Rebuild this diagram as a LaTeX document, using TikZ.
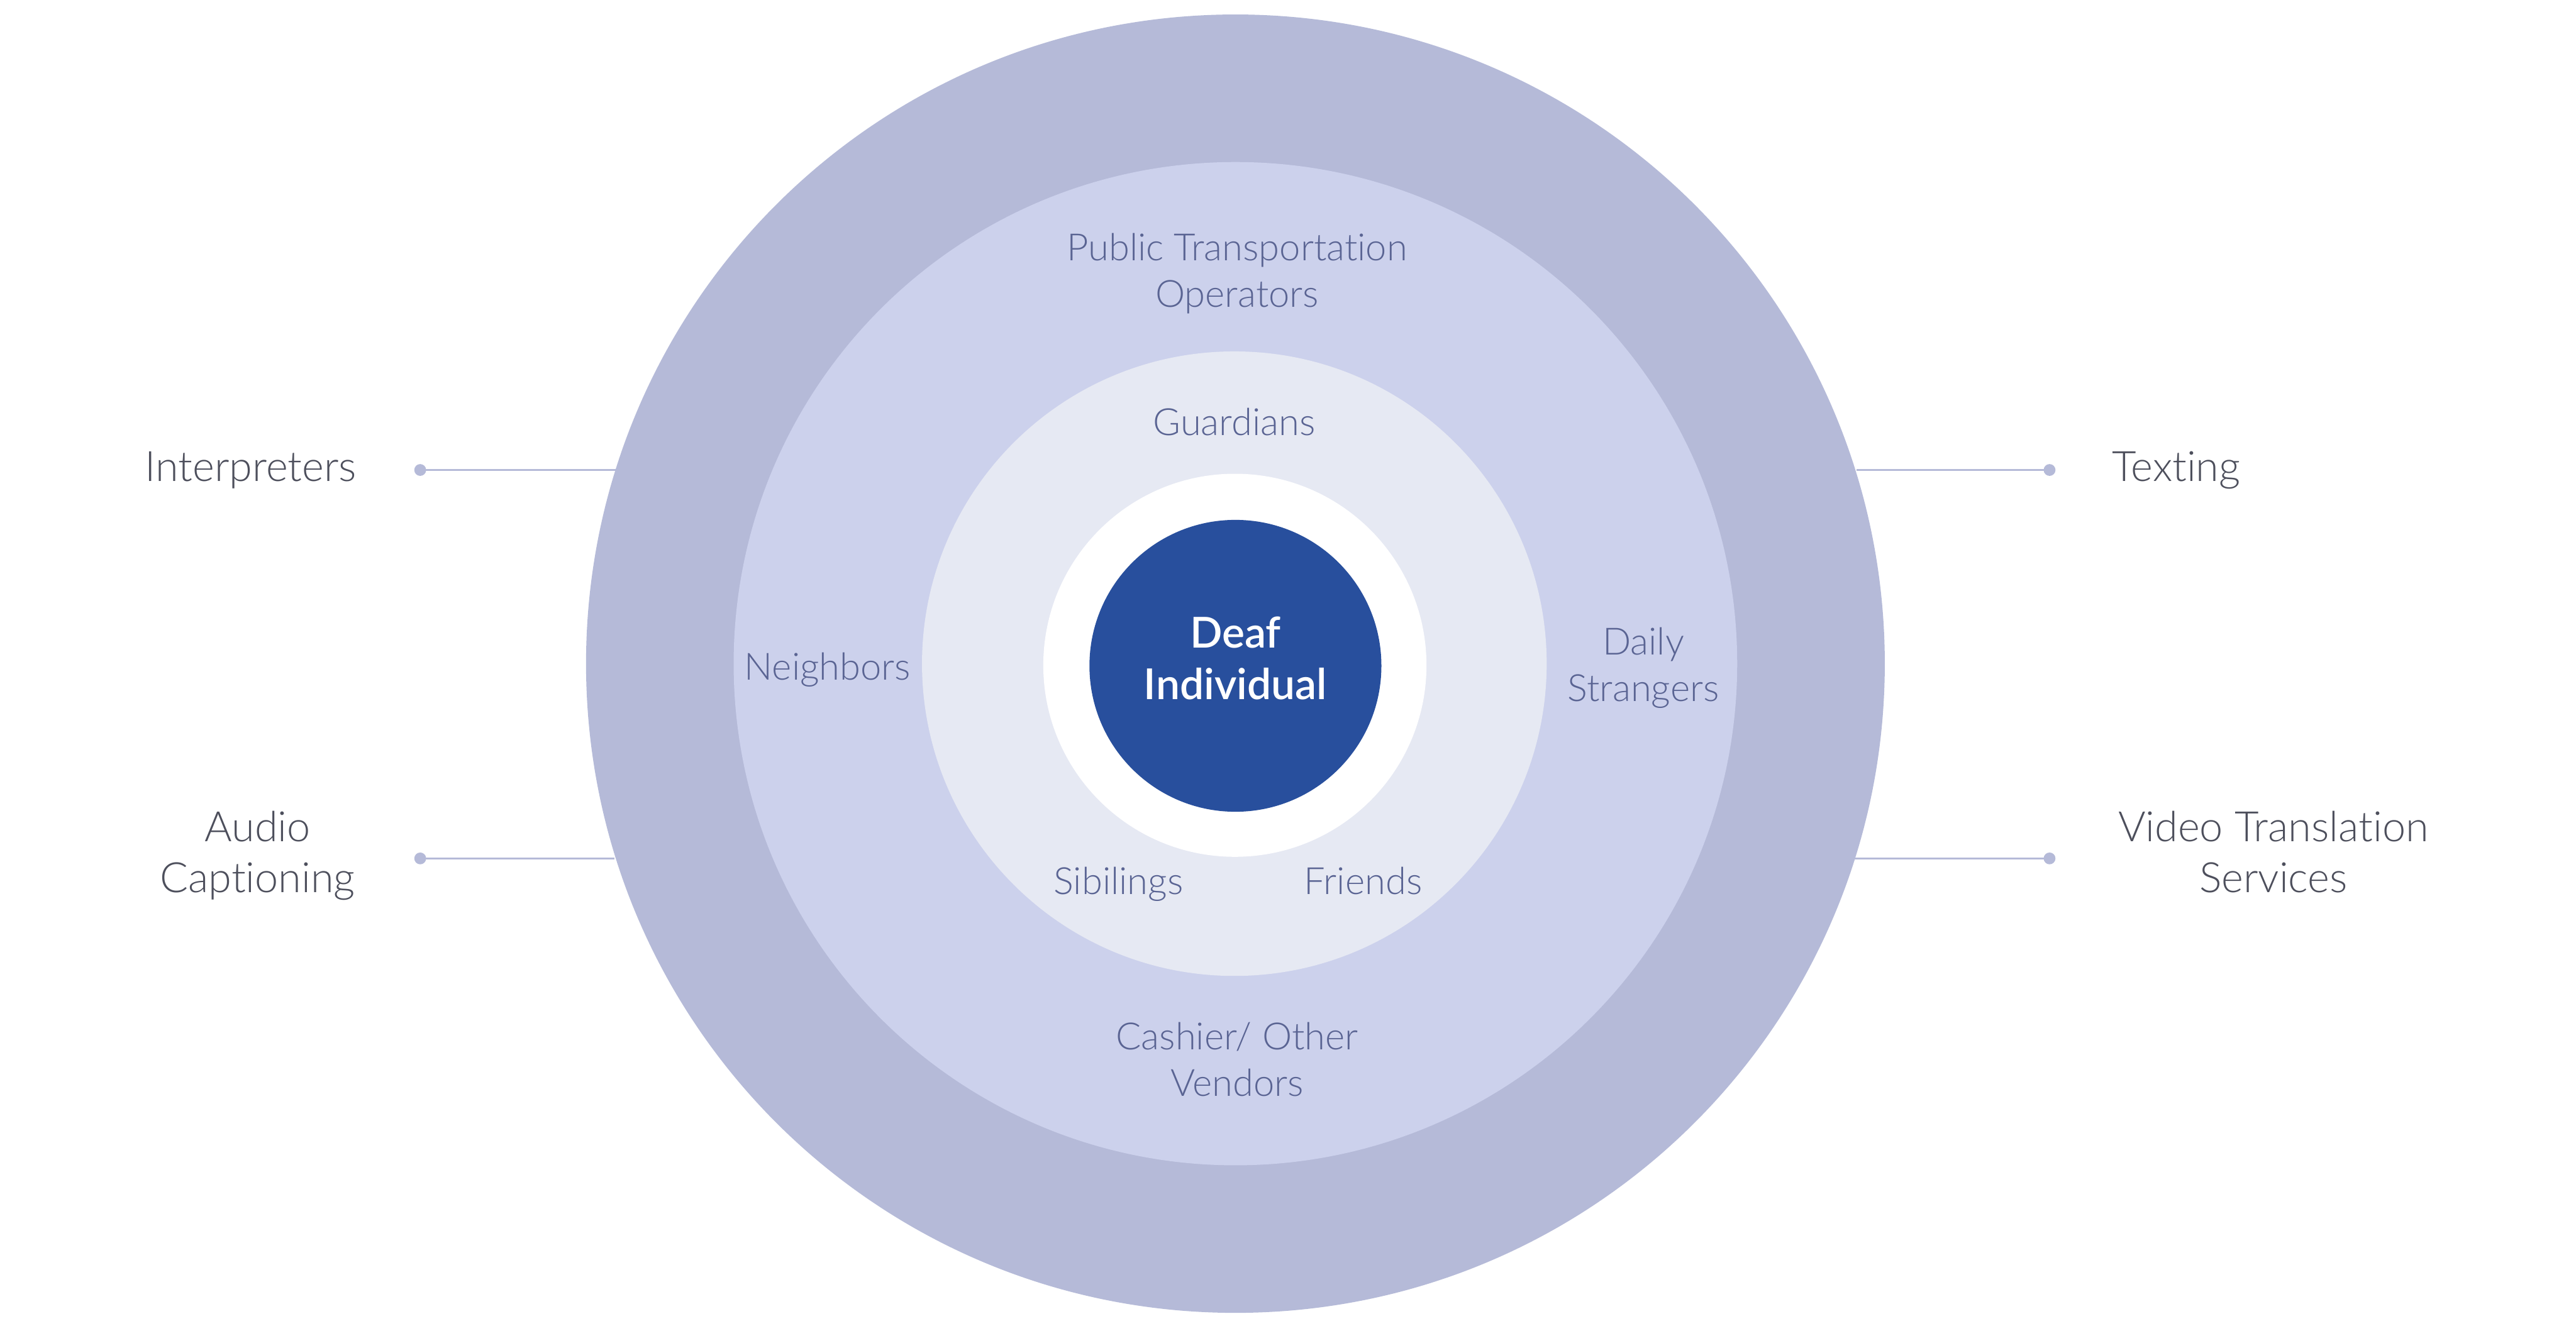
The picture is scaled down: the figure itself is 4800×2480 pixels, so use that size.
\documentclass[tikz,border=0pt]{standalone}
\usepackage{fontspec}
\setmainfont{Lato}[UprightFont=* Light, BoldFont=* Semibold, Ligatures=NoCommon]
\definecolor{ringA}{HTML}{B5BAD8}
\definecolor{ringB}{HTML}{CCD1EC}
\definecolor{ringC}{HTML}{E6E9F3}
\definecolor{coreblue}{HTML}{284F9D}
\definecolor{intext}{HTML}{5A6493}
\definecolor{outtext}{HTML}{4D4F5C}
\begin{document}
\begin{tikzpicture}[x=0.1mm,y=-0.1mm,
  ring/.style={circle,inner sep=0pt,outer sep=0pt,draw=none},
  outlabel/.style={text=outtext,font=\fontsize{22.2}{27}\selectfont,align=center,inner sep=0pt,anchor=base},
  inlabel/.style={text=intext,font=\fontsize{19.9}{24.5}\selectfont,align=center,inner sep=0pt,anchor=base},
  corelabel/.style={text=white,font=\fontsize{22.6}{27.3}\selectfont\bfseries,align=center,inner sep=0pt,anchor=base},
  dot/.style={circle,fill=ringA,minimum size=2.2mm,inner sep=0pt,outer sep=0pt},
  link/.style={draw=ringA,line width=0.4mm}]
\useasboundingbox[fill=white] (0,0) rectangle (4800,2480);
% rings
\node[ring,fill=ringA,minimum size=242mm] (r1) at (2302,1237) {};
\node[ring,fill=ringB,minimum size=187mm] (r2) at (2302,1237) {};
\node[ring,fill=ringC,minimum size=116.4mm] (r3) at (2300,1237) {};
\node[ring,fill=white,minimum size=71.4mm] (r4) at (2301,1240) {};
\node[ring,fill=coreblue,minimum size=54.4mm] (core) at (2302,1241) {};
% dots
\node[dot] (dl1) at (783,876) {};
\node[dot] (dl2) at (783,1600) {};
\node[dot] (dr1) at (3819,876) {};
\node[dot] (dr2) at (3819,1600) {};
% connectors
\draw[link] (dl1.center) -- (r1.162.64 |- dl1);
\draw[link] (dl2.center) -- (r1.197.46 |- dl2);
\draw[link] (dr1.center) -- (r1.17.36 |- dr1);
\draw[link] (dr2.center) -- (r1.342.54 |- dr2);
% outer labels (anchor base = baseline of last line)
\node[outlabel] (t1) at (467,897) {Interpreters};
\node[outlabel] (t2) at (480,1663) {Audio\\Captioning};
\node[outlabel] (t3) at (4055,897) {Texting};
\node[outlabel] (t4) at (4236,1663) {Video Translation\\Services};
% inner labels
\node[inlabel] (l1) at (2305,572) {Public Transportation\\Operators};
\node[inlabel] (l2) at (2300,812) {Guardians};
\node[inlabel] (l3) at (1542,1267) {Neighbors};
\node[inlabel] (l4) at (3062,1307) {Daily\\Strangers};
\node[inlabel] (l5) at (2084,1667) {Sibilings};
\node[inlabel] (l6) at (2540,1667) {Friends};
\node[inlabel] (l7) at (2305,2043) {Cashier/ Other\\Vendors};
\node[corelabel] (c1) at (2302,1304) {Deaf\\Individual};
\end{tikzpicture}
\end{document}
